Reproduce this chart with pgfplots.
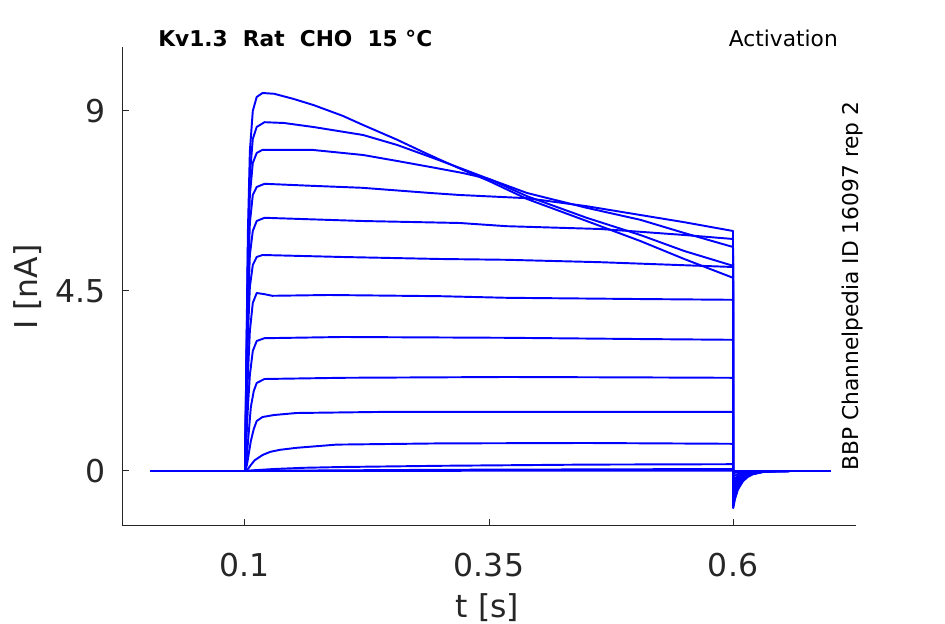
\documentclass[border=0pt]{standalone}
\usepackage{pgfplots}
\pgfplotsset{compat=1.18}
\usepackage{fontspec}
\setmainfont{DejaVu Sans}
\definecolor{axgray}{HTML}{262626}
\definecolor{trblue}{RGB}{0,0,255}
\begin{document}
\begin{tikzpicture}
\begin{axis}[
  at={(91.5pt,73.5pt)}, anchor=south west,
  scale only axis, width=550.5pt, height=359.25pt,
  xmin=-0.026, xmax=0.726, ymin=-1.375, ymax=10.6,
  axis x line=bottom, axis y line=left,
  axis line style={-, axgray, line width=0.75pt},
  tick align=inside, major tick length=5pt,
  tick style={axgray, line width=0.75pt},
  xtick={0.1,0.35,0.6}, xticklabels={0.1,0.35,0.6},
  ytick={0,4.5,9}, yticklabels={0,4.5,9},
  ticklabel style={font=\fontsize{23.6}{28}\selectfont, text=axgray, inner sep=0pt},
  xticklabel shift=20pt, yticklabel shift=12pt,
  /pgf/number format/assume math mode=true,
  tr/.style={trblue, solid, mark=none, line width=1.45pt, line join=round},
]
% A
\addplot[tr] coordinates {(0.003,0) (0.1,0) (0.1015,3.0) (0.103,6.0) (0.105,8.0) (0.108,9.0) (0.112,9.35) (0.118,9.45) (0.13,9.43) (0.15,9.3) (0.17,9.15) (0.2,8.88) (0.221,8.65) (0.256,8.28) (0.282,7.98) (0.3,7.78) (0.323,7.53) (0.35,7.25) (0.389,6.8) (0.45,6.25) (0.505,5.75) (0.55,5.3) (0.6,4.83) (0.6002,-0.93) (0.602,-0.70) (0.605,-0.465) (0.61,-0.26) (0.615,-0.149) (0.62,-0.084) (0.63,-0.028) (0.64,-0.009) (0.66,0) (0.7,0)};
% B
\addplot[tr] coordinates {(0.003,0) (0.1,0) (0.1015,2.8) (0.103,5.5) (0.105,7.4) (0.108,8.3) (0.112,8.6) (0.12,8.72) (0.14,8.7) (0.17,8.6) (0.221,8.4) (0.256,8.15) (0.29,7.85) (0.323,7.55) (0.35,7.3) (0.389,6.87) (0.45,6.33) (0.505,5.9) (0.55,5.5) (0.6,5.13) (0.6002,-0.88) (0.602,-0.66) (0.605,-0.44) (0.61,-0.246) (0.615,-0.141) (0.62,-0.079) (0.63,-0.026) (0.64,-0.009) (0.66,0) (0.7,0)};
% C
\addplot[tr] coordinates {(0.003,0) (0.1,0) (0.1015,2.6) (0.103,5.2) (0.105,6.9) (0.108,7.7) (0.112,7.95) (0.118,8.03) (0.168,8.03) (0.221,7.9) (0.256,7.75) (0.29,7.6) (0.323,7.45) (0.35,7.3) (0.389,6.95) (0.45,6.58) (0.505,6.28) (0.55,5.95) (0.6,5.6) (0.6002,-0.82) (0.602,-0.615) (0.605,-0.41) (0.61,-0.23) (0.615,-0.131) (0.62,-0.074) (0.63,-0.025) (0.64,-0.008) (0.66,0) (0.7,0)};
% D
\addplot[tr] coordinates {(0.003,0) (0.1,0) (0.1015,2.4) (0.103,4.6) (0.105,6.2) (0.108,6.9) (0.112,7.1) (0.12,7.18) (0.168,7.13) (0.22,7.08) (0.29,6.95) (0.32,6.9) (0.389,6.82) (0.45,6.62) (0.505,6.4) (0.55,6.22) (0.6,6.0) (0.6002,-0.75) (0.602,-0.563) (0.605,-0.375) (0.61,-0.21) (0.615,-0.12) (0.62,-0.068) (0.63,-0.023) (0.64,-0.008) (0.66,0) (0.7,0)};
% E
\addplot[tr] coordinates {(0.003,0) (0.1,0) (0.1015,2.1) (0.103,4.0) (0.105,5.4) (0.108,6.0) (0.112,6.25) (0.12,6.33) (0.22,6.25) (0.32,6.2) (0.368,6.12) (0.464,6.05) (0.505,5.98) (0.55,5.9) (0.6,5.8) (0.6002,-0.68) (0.602,-0.51) (0.605,-0.34) (0.61,-0.19) (0.615,-0.109) (0.62,-0.061) (0.63,-0.02) (0.64,-0.007) (0.66,0) (0.7,0)};
% F
\addplot[tr] coordinates {(0.003,0) (0.1,0) (0.1015,1.8) (0.103,3.4) (0.105,4.6) (0.108,5.15) (0.112,5.35) (0.118,5.4) (0.2,5.35) (0.3,5.3) (0.368,5.28) (0.464,5.22) (0.6,5.1) (0.6002,-0.6) (0.602,-0.45) (0.605,-0.3) (0.61,-0.168) (0.615,-0.096) (0.62,-0.054) (0.63,-0.018) (0.64,-0.006) (0.66,0) (0.7,0)};
% G
\addplot[tr] coordinates {(0.003,0) (0.1,0) (0.1015,1.2) (0.103,2.4) (0.105,3.5) (0.108,4.2) (0.112,4.45) (0.12,4.42) (0.128,4.38) (0.186,4.4) (0.3,4.37) (0.368,4.33) (0.5,4.3) (0.6,4.28) (0.6002,-0.52) (0.602,-0.39) (0.605,-0.26) (0.61,-0.146) (0.615,-0.083) (0.62,-0.047) (0.63,-0.016) (0.64,-0.005) (0.66,0) (0.7,0)};
% H
\addplot[tr] coordinates {(0.003,0) (0.1,0) (0.1015,0.8) (0.103,1.6) (0.105,2.4) (0.108,3.0) (0.112,3.25) (0.12,3.32) (0.2,3.35) (0.368,3.33) (0.5,3.3) (0.6,3.28) (0.6002,-0.43) (0.602,-0.323) (0.605,-0.215) (0.61,-0.12) (0.615,-0.069) (0.62,-0.039) (0.63,-0.013) (0.64,-0.004) (0.66,0) (0.7,0)};
% I
\addplot[tr] coordinates {(0.003,0) (0.1,0) (0.102,0.4) (0.104,1.0) (0.106,1.6) (0.109,2.0) (0.112,2.2) (0.12,2.3) (0.2,2.33) (0.368,2.35) (0.5,2.34) (0.6,2.33) (0.6002,-0.34) (0.602,-0.255) (0.605,-0.17) (0.61,-0.095) (0.615,-0.054) (0.62,-0.031) (0.63,-0.01) (0.64,-0.003) (0.66,0) (0.7,0)};
% J
\addplot[tr] coordinates {(0.003,0) (0.1,0) (0.102,0.15) (0.104,0.45) (0.106,0.75) (0.109,1.05) (0.112,1.25) (0.118,1.35) (0.13,1.4) (0.153,1.45) (0.25,1.48) (0.6,1.48) (0.6002,-0.25) (0.602,-0.188) (0.605,-0.125) (0.61,-0.07) (0.615,-0.04) (0.62,-0.023) (0.63,-0.008) (0.64,-0.003) (0.66,0) (0.7,0)};
% K
\addplot[tr] coordinates {(0.003,0) (0.1,0) (0.103,0.05) (0.106,0.15) (0.11,0.27) (0.118,0.4) (0.126,0.48) (0.136,0.53) (0.153,0.58) (0.194,0.66) (0.3,0.69) (0.45,0.7) (0.6,0.68) (0.6002,-0.15) (0.602,-0.113) (0.605,-0.075) (0.61,-0.042) (0.615,-0.024) (0.62,-0.014) (0.63,-0.005) (0.64,-0.002) (0.66,0) (0.7,0)};
% L
\addplot[tr] coordinates {(0.003,0) (0.1,0) (0.11,0.02) (0.13,0.05) (0.16,0.08) (0.2,0.1) (0.3,0.13) (0.45,0.16) (0.6,0.17) (0.6002,-0.06) (0.602,-0.045) (0.605,-0.03) (0.61,-0.017) (0.615,-0.01) (0.62,-0.005) (0.63,-0.002) (0.66,0) (0.7,0)};
% M
\addplot[tr] coordinates {(0.003,0) (0.1,0) (0.15,0.01) (0.3,0.03) (0.6,0.05) (0.6002,-0.02) (0.602,-0.015) (0.605,-0.01) (0.61,-0.006) (0.62,-0.002) (0.64,0) (0.7,0)};
% N
\addplot[tr] coordinates {(0.003,0) (0.1,0) (0.3,0.005) (0.6,0.01) (0.6002,0) (0.7,0)};
\end{axis}
\node[anchor=base west, inner sep=0pt, font=\bfseries\fontsize{16.3}{19}\selectfont] at (118.5pt,432.75pt) {Kv1.3\ \ Rat\ \ CHO\ \ 15 °C};
\node[anchor=base east, inner sep=0pt, font=\fontsize{16.3}{19}\selectfont] at (628.5pt,432.75pt) {Activation};
\node[rotate=90, inner sep=0pt, font=\fontsize{16.3}{19}\selectfont] at (639pt,253.5pt) {BBP Channelpedia ID 16097 rep 2};
\node[inner sep=0pt, text=axgray, font=\fontsize{23.6}{28}\selectfont] at (365.5pt,12pt) {t [s]};
\node[rotate=90, inner sep=0pt, text=axgray, font=\fontsize{23.6}{28}\selectfont] at (20.6pt,252.75pt) {I [nA]};
\pgfresetboundingbox
\path[use as bounding box] (0,0) rectangle (708.75pt,468pt);
\end{tikzpicture}
\end{document}
